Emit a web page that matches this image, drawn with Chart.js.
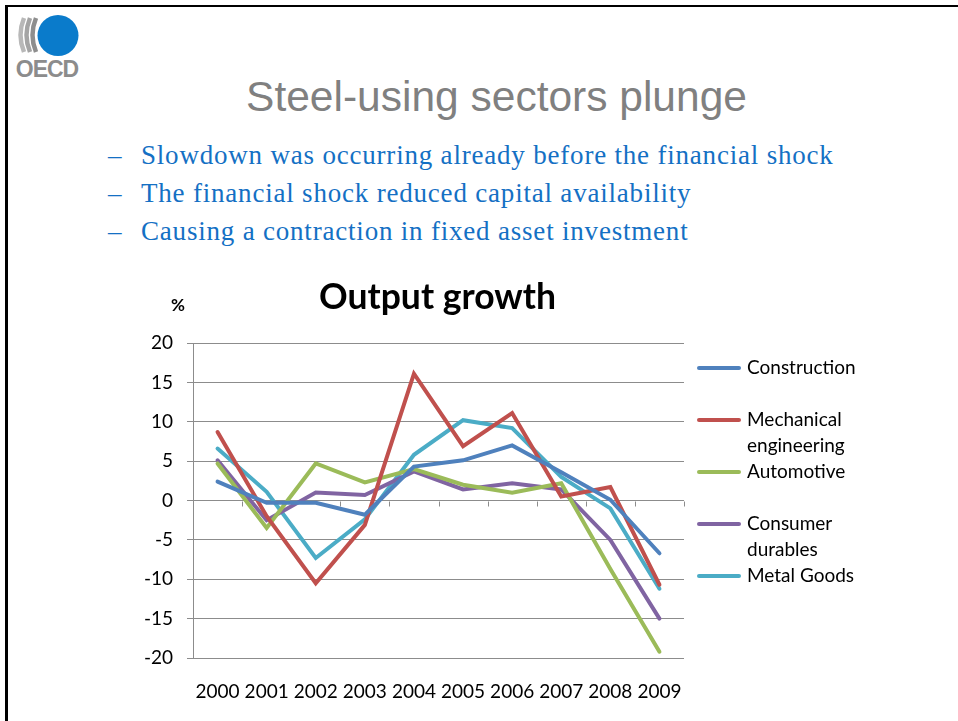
<!DOCTYPE html>
<html>
<head>
<meta charset="utf-8">
<title>Steel-using sectors plunge</title>
<script src="https://cdn.jsdelivr.net/npm/chart.js@4.4.1/dist/chart.umd.min.js"></script>
<style>
  html, body { margin: 0; padding: 0; background: #fff; }
  body { width: 958px; height: 721px; position: relative; overflow: hidden; }
  .frame-top { position: absolute; left: 5px; top: 5px; right: 0; height: 2px; background: #000; }
  .frame-left { position: absolute; left: 5px; top: 5px; width: 3px; bottom: 0; background: #000; }
  #logo { position: absolute; left: 0; top: 0; }
  h1 { position: absolute; left: 0; width: 993px; top: 73px; margin: 0; text-align: center;
       font: 400 42.5px "Liberation Sans", Arial, sans-serif; color: #808080; }
  .points { position: absolute; left: 108px; top: 136px; margin: 0; padding: 0; list-style: none;
            font: 27px "Liberation Serif", serif; letter-spacing: 0.8px; color: #1470C4; }
  .points li { height: 38px; line-height: 38px; white-space: nowrap; }
  .points .dash { display: inline-block; width: 33px; letter-spacing: 0; }
  #wrap { position: absolute; left: 130px; top: 280px; width: 760px; height: 430px; }
</style>
</head>
<body>
<div class="frame-top"></div>
<div class="frame-left"></div>

<svg id="logo" width="90" height="85" viewBox="0 0 90 85">
  <path d="M24 18 Q17 35 24 52" fill="none" stroke="#b8b8b8" stroke-width="4.5"/>
  <path d="M30 18 Q23 35 30 52" fill="none" stroke="#a4a4a4" stroke-width="4.5"/>
  <path d="M36 18 Q29 35 36 52" fill="none" stroke="#8e8e8e" stroke-width="4.5"/>
  <circle cx="58" cy="35.5" r="20.5" fill="#0A7BCB"/>
  <text x="47" y="77" text-anchor="middle" font-family="Liberation Sans, Arial, sans-serif"
        font-weight="bold" font-size="23" letter-spacing="-1" fill="#8c8c8c">OECD</text>
</svg>

<h1>Steel-using sectors plunge</h1>
<ul class="points">
  <li><span class="dash">–</span>Slowdown was occurring already before the financial shock</li>
  <li><span class="dash">–</span>The financial shock reduced capital availability</li>
  <li><span class="dash">–</span>Causing a contraction in fixed asset investment</li>
</ul>

<div id="wrap"><canvas id="output-chart" width="760" height="430"></canvas></div>

<script>
// yearly output growth, %
const years = ['2000', '2001', '2002', '2003', '2004', '2005', '2006', '2007', '2008', '2009'];
const construction = [2.4, -0.3, -0.3, -1.8, 4.3, 5.1, 7.0, 3.6, 0.1, -6.7];
const mechanicalEngineering = [8.7, -2.0, -10.5, -3.1, 16.1, 6.9, 11.1, 0.5, 1.7, -10.7];
const automotive = [4.7, -3.5, 4.7, 2.3, 4.0, 2.0, 1.0, 2.2, -8.7, -19.2];
const consumerDurables = [5.1, -2.5, 1.0, 0.7, 3.7, 1.4, 2.2, 1.4, -5.0, -15.0];
const metalGoods = [6.6, 1.1, -7.3, -2.4, 5.8, 10.2, 9.2, 3.0, -1.0, -11.2];

const seriesNames = ['Construction', 'Mechanical engineering', 'Automotive', 'Consumer durables', 'Metal Goods'];
const seriesValues = [construction, mechanicalEngineering, automotive, consumerDurables, metalGoods];
const seriesColors = ['#4F81BD', '#C0504D', '#9BBB59', '#8064A2', '#4BACC6'];

const yMin = -20, yMax = 20, yStep = 5;

const gridGray = '#8C8C8C';
const labelFont = 'Lato, "Open Sans", sans-serif';

// wrap a legend label into lines no wider than maxWidth
function wrapLabel(ctx, text, maxWidth) {
    const words = text.split(' ');
    const lines = [];
    let line = '';
    words.forEach(word => {
        const test = line ? line + ' ' + word : word;
        if (line && ctx.measureText(test).width > maxWidth) {
            lines.push(line);
            line = word;
        } else {
            line = test;
        }
    });
    if (line) lines.push(line);
    return lines;
}

const slideChartDecor = {
    id: 'slideChartDecor',
    beforeDatasetsDraw(chart) {
        const {ctx, scales} = chart;
        const x = scales.x, y = scales.y;
        // little tick marks under the zero line, between the years
        const y0 = Math.round(y.getPixelForValue(0)) + 0.5;
        const step = (x.right - x.left) / years.length;
        ctx.save();
        ctx.strokeStyle = gridGray;
        ctx.lineWidth = 1;
        for (let i = 1; i <= years.length; i++) {
            const px = Math.round(x.left + i * step) + 0.5;
            ctx.beginPath();
            ctx.moveTo(px, y0);
            ctx.lineTo(px, y0 + 5);
            ctx.stroke();
        }
        ctx.restore();
    },
    afterDraw(chart) {
        const {ctx, chartArea} = chart;
        ctx.save();
        ctx.fillStyle = '#000';
        ctx.textBaseline = 'middle';

        // chart title and unit
        ctx.textAlign = 'center';
        ctx.font = 'bold 35.5px ' + labelFont;
        ctx.fillText('Output growth', (chartArea.left + chartArea.right) / 2 - 1, chartArea.top - 45);
        ctx.font = 'bold 17px ' + labelFont;
        ctx.fillText('%', chartArea.left - 15, chartArea.top - 37);

        // legend on the right
        ctx.textAlign = 'left';
        ctx.font = '19px ' + labelFont;
        const lx = chartArea.right + 13;
        chart.data.datasets.forEach((ds, i) => {
            const cy = chartArea.top + 25 + i * 52;
            ctx.strokeStyle = ds.borderColor;
            ctx.lineWidth = 4;
            ctx.lineCap = 'round';
            ctx.beginPath();
            ctx.moveTo(lx + 2, cy);
            ctx.lineTo(lx + 42, cy);
            ctx.stroke();
            wrapLabel(ctx, ds.label, 125).forEach((line, j) => {
                ctx.fillText(line, lx + 50, cy + j * 26);
            });
        });
        ctx.restore();
    }
};

new Chart(document.querySelector('#output-chart').getContext('2d'), {
    type: 'line',
    data: {
        labels: years,
        datasets: seriesNames.map((name, i) => ({
            label: name,
            data: seriesValues[i],
            borderColor: seriesColors[i],
            backgroundColor: seriesColors[i],
            borderWidth: 4,
            borderCapStyle: 'round',
            pointRadius: 0,
            tension: 0
        }))
    },
    options: {
        responsive: false,
        animation: false,
        layout: { padding: { top: 63, right: 206, left: 0, bottom: 0 } },
        plugins: {
            legend: { display: false },
            title: { display: false },
            tooltip: { enabled: false }
        },
        scales: {
            x: {
                offset: true,
                grid: { display: false, drawTicks: false },
                border: { display: false },
                ticks: { color: '#000', font: { family: labelFont, size: 19 }, padding: 22, maxRotation: 0 },
                afterFit(scale) { scale.height = 52; }
            },
            y: {
                min: yMin,
                max: yMax,
                grid: { color: gridGray, lineWidth: 1, tickLength: 6 },
                border: { color: gridGray, width: 1 },
                ticks: { stepSize: yStep, color: '#000', font: { family: labelFont, size: 19 }, padding: 14 },
                afterFit(scale) { scale.width = 63; }
            }
        }
    },
    plugins: [slideChartDecor]
});
</script>
</body>
</html>
